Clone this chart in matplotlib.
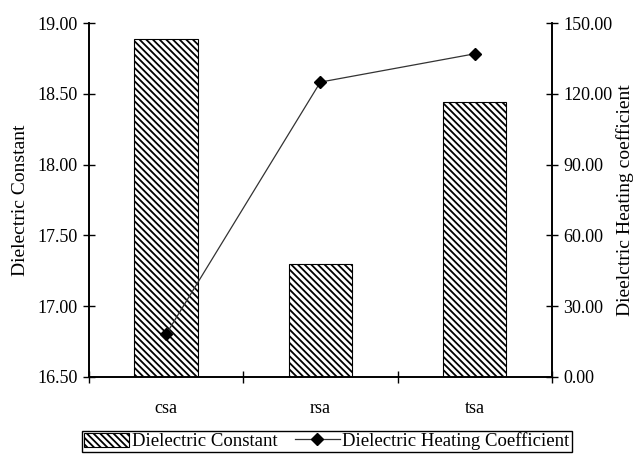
import matplotlib.pyplot as plt
from matplotlib.lines import Line2D
from matplotlib.patches import Patch

# values
categories = ['csa', 'rsa', 'tsa']
dielectric_constant = [18.89, 17.30, 18.44]
heating_coeff = [18.0, 125.0, 137.0]
left_ticks = [16.5, 17.0, 17.5, 18.0, 18.5, 19.0]
right_ticks = [0, 30, 60, 90, 120, 150]

plt.rcParams['font.family'] = ['Liberation Serif', 'DejaVu Serif']
plt.rcParams['hatch.linewidth'] = 1.3

HATCH = '\\' * 5

fig = plt.figure(figsize=(6.35, 4.54), dpi=100)
ax = fig.add_axes([0.140, 0.170, 0.729, 0.779])

x = list(range(len(categories)))
ax.bar(x, dielectric_constant, width=0.41, bottom=0, color='white',
       edgecolor='black', hatch=HATCH, linewidth=0.8)
ax.set_ylim(16.5, 19.0)
ax.set_xlim(-0.5, 2.5)
ax.set_yticks(left_ticks)
ax.set_yticklabels(['%.2f' % v for v in left_ticks], fontsize=13)
ax.set_ylabel('Dielectric Constant', fontsize=14, labelpad=6)

# category ticks between the bars, labels in the middle
ax.set_xticks([-0.5, 0.5, 1.5, 2.5])
ax.set_xticklabels([])
ax.set_xticks(x, minor=True)
ax.set_xticklabels(categories, minor=True, fontsize=13)
ax.tick_params(axis='x', which='major', direction='inout', length=9, width=1)
ax.tick_params(axis='x', which='minor', length=0, pad=17)
ax.tick_params(axis='y', direction='inout', length=9, width=1)

ax2 = ax.twinx()
ax2.plot(x, heating_coeff, color='#333333', linewidth=0.9, marker='D',
         markersize=6, markerfacecolor='black', markeredgecolor='black')
ax2.set_ylim(0, 150)
ax2.set_yticks(right_ticks)
ax2.set_yticklabels(['%.2f' % v for v in right_ticks], fontsize=13)
ax2.set_ylabel('Dieelctric Heating coefficient', fontsize=14, labelpad=3)
ax2.tick_params(axis='y', direction='inout', length=9, width=1)

for a in (ax, ax2):
    a.spines['top'].set_visible(False)
    for s in ('left', 'right', 'bottom'):
        a.spines[s].set_linewidth(1.2)

handles = [Patch(facecolor='white', edgecolor='black', hatch=HATCH, linewidth=0.8),
           Line2D([], [], color='#333333', linewidth=0.9, marker='D', markersize=6,
                  markerfacecolor='black', markeredgecolor='black')]
leg = fig.legend(handles, ['Dielectric Constant', 'Dielectric Heating Coefficient'],
                 loc='lower center', bbox_to_anchor=(0.515, 0.0), ncol=2, fontsize=13.5,
                 frameon=True, fancybox=False, edgecolor='black', framealpha=1,
                 handlelength=2.4, handleheight=0.8, handletextpad=0.15,
                 columnspacing=0.9, borderpad=0.1, borderaxespad=0.1)
leg.get_frame().set_linewidth(1.0)

fig.savefig('out.png', dpi=100)
